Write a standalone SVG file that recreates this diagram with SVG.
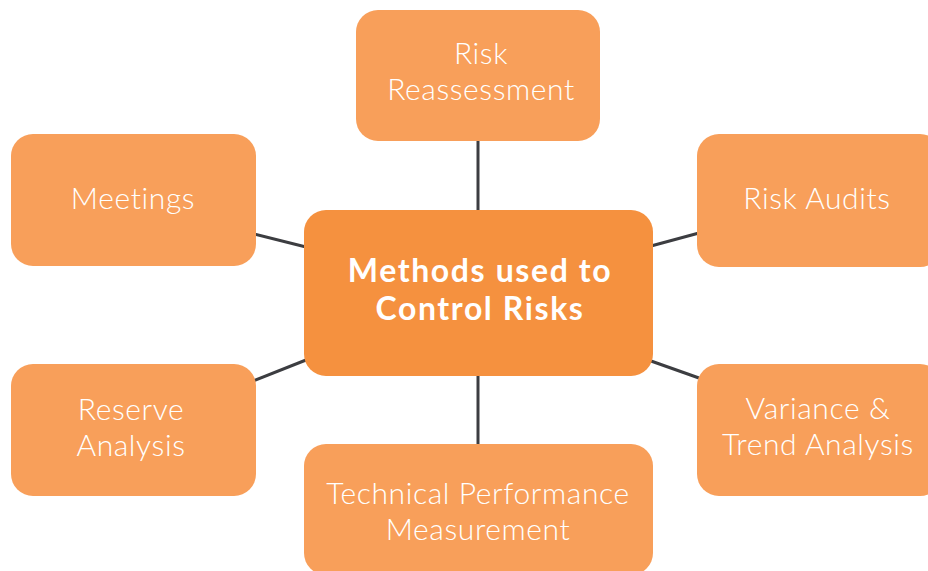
<svg xmlns="http://www.w3.org/2000/svg" width="928" height="571" viewBox="0 0 928 571">
<style>
.n{fill:#F89F5A}
.c{fill:#F5913F}
.t{font-family:Lato,"Noto Sans","Liberation Sans",sans-serif;font-weight:300;font-size:30px;letter-spacing:0.6px;fill:#fff;text-anchor:middle}
.tb{font-family:Lato,"Noto Sans","Liberation Sans",sans-serif;font-weight:700;font-size:32px;letter-spacing:1.6px;fill:#fff;text-anchor:middle}
.e{stroke:#3C3D41;stroke-width:3;fill:none}
</style>
<rect width="928" height="571" fill="#fff"/>
<g id="connectors">
<line class="e" x1="478" y1="140" x2="478" y2="212"/>
<line class="e" x1="478" y1="374" x2="478" y2="446"/>
<line class="e" x1="254" y1="234" x2="306" y2="247"/>
<line class="e" x1="253" y1="381" x2="306" y2="360"/>
<line class="e" x1="651" y1="246" x2="699" y2="233"/>
<line class="e" x1="651" y1="361" x2="699" y2="378"/>
</g>
<g id="center">
<rect class="c" x="304" y="210" width="349" height="166" rx="22"/>
<text class="tb" x="480" y="282">Methods used to</text>
<text class="tb" x="480" y="320">Control Risks</text>
</g>
<g id="risk-reassessment">
<rect class="n" x="356" y="10" width="244" height="131" rx="22"/>
<text class="t" x="481" y="64">Risk</text>
<text class="t" x="481" y="100">Reassessment</text>
</g>
<g id="meetings">
<rect class="n" x="11" y="134" width="245" height="132" rx="22"/>
<text class="t" x="133" y="209">Meetings</text>
</g>
<g id="risk-audits">
<rect class="n" x="697" y="134" width="245" height="133" rx="22"/>
<text class="t" x="817" y="209">Risk Audits</text>
</g>
<g id="reserve-analysis">
<rect class="n" x="11" y="364" width="245" height="132" rx="22"/>
<text class="t" x="131" y="420">Reserve</text>
<text class="t" x="131" y="456">Analysis</text>
</g>
<g id="variance-trend">
<rect class="n" x="697" y="364" width="245" height="132" rx="22"/>
<text class="t" x="818" y="419">Variance &amp;</text>
<text class="t" x="818" y="455">Trend Analysis</text>
</g>
<g id="technical-performance">
<rect class="n" x="304" y="444" width="349" height="131" rx="22"/>
<text class="t" x="478" y="504">Technical Performance</text>
<text class="t" x="478" y="540">Measurement</text>
</g>
</svg>
